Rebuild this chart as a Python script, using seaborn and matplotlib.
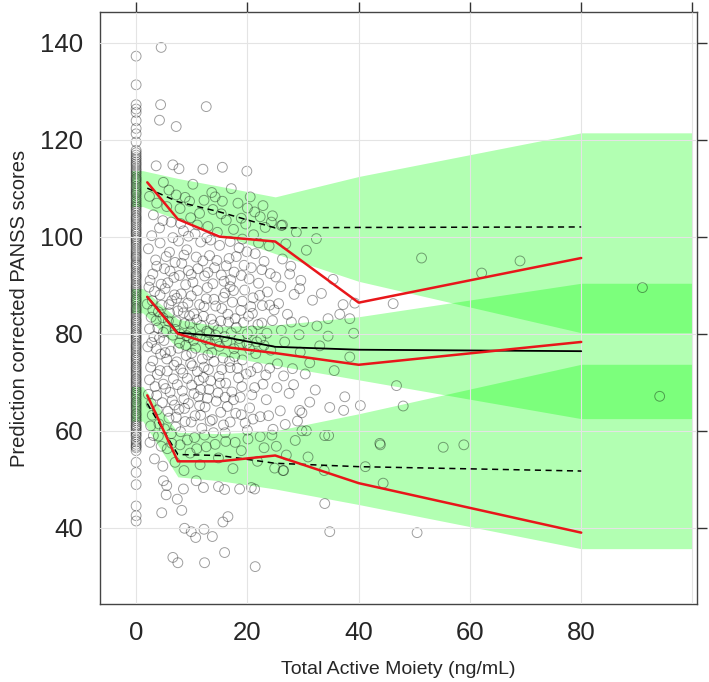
import numpy as np
import pandas as pd
import matplotlib
matplotlib.use("Agg")
import matplotlib.pyplot as plt
import seaborn as sns

# observed / simulated percentile lines (bin midpoints)
bin_x = [2, 7.5, 15, 25, 40, 80]
obs_p95 = [111.2, 103.6, 100.0, 99.0, 86.4, 95.6]
obs_p50 = [87.6, 80.0, 77.4, 76.0, 73.6, 78.3]
obs_p05 = [67.3, 53.7, 53.7, 54.9, 49.2, 39.0]
sim_p95 = [110.0, 107.2, 105.1, 101.8, 101.9, 102.0]
sim_p50 = [87.6, 80.2, 79.5, 77.3, 76.7, 76.4]
sim_p05 = [65.6, 55.1, 54.9, 53.3, 52.6, 51.7]

# confidence areas of the simulated percentiles
band_x = [-0.9, 1.2, 7.5, 15, 25, 40, 80, 100]
top_hi = [113.6, 113.6, 112.0, 110.4, 108.2, 112.4, 121.4, 121.4]
top_lo = [106.2, 106.2, 103.5, 100.5, 96.5, 90.8, 80.2, 80.2]
mid_hi = [89.3, 89.3, 83.0, 81.5, 81.8, 83.5, 90.4, 90.4]
mid_lo = [84.3, 84.3, 77.0, 75.5, 73.5, 70.5, 62.5, 62.5]
low_hi = [69.1, 69.1, 59.7, 59.4, 60.0, 63.5, 73.7, 73.7]
low_lo = [62.0, 62.0, 50.5, 49.7, 48.0, 44.8, 35.7, 35.7]

# observations with zero concentration
zero_y = [137.2, 131.3, 127.2, 126.3, 125.6, 123.9, 122.3, 121.2, 119.5, 117.8,
          116.8, 115.9, 115.0, 114.1, 113.3, 112.4, 111.7, 110.9, 110.0, 109.2,
          108.5, 107.6, 106.8, 106.1, 105.3, 104.4, 103.7, 102.9, 102.0, 101.2,
          100.5, 99.6, 98.9, 98.1, 97.2, 96.4, 95.7, 94.8, 94.1, 93.3,
          92.4, 91.7, 90.9, 90.0, 89.3, 88.5, 87.6, 86.9, 86.1, 85.2,
          84.5, 83.7, 82.8, 82.1, 81.3, 80.4, 79.7, 78.9, 78.0, 77.3,
          76.5, 75.6, 74.9, 74.1, 73.2, 72.5, 71.7, 70.8, 70.1, 69.3,
          68.4, 67.7, 66.9, 66.0, 65.3, 64.5, 63.6, 62.9, 62.1, 61.2,
          60.5, 59.6, 58.8, 58.1, 57.2, 56.5, 55.9, 53.5, 51.4, 48.9,
          44.5, 42.5, 41.4]
zero_y2 = [117.3, 116.3, 115.4, 114.6, 113.7, 112.9, 112.0, 111.3, 110.4, 109.6,
           108.9, 108.0, 107.2, 106.4, 105.7, 104.9, 104.0, 103.3, 102.5, 101.6,
           100.8, 100.0, 99.3, 98.5, 97.6, 96.8, 96.0, 95.3, 94.4, 93.7,
           92.8, 92.0, 91.3, 90.4, 89.6, 88.9, 88.1, 87.2, 86.5, 85.6,
           84.9, 84.1, 83.2, 82.5, 81.7, 80.9, 80.0, 79.3, 78.5, 77.6,
           76.9, 76.1, 75.2, 74.5, 73.7, 72.9, 72.1, 71.3, 70.5, 69.7,
           68.9, 68.1, 67.3, 66.5, 65.7, 64.9, 64.1, 63.3, 62.5, 61.7,
           60.9, 60.1, 59.2, 57.7, 56.8]

# observations with positive concentration (x, y)
obs_sparse = [(4.5, 139.0), (4.4, 127.2), (12.6, 126.8), (4.2, 124.0), (7.2, 122.7),
              (3.6, 114.6), (6.6, 114.8), (7.7, 114.0), (12.0, 113.9), (15.5, 114.3),
              (19.9, 113.5), (4.9, 111.2), (13.6, 109.1), (15.5, 107.3), (8.8, 108.1),
              (9.6, 107.3), (21.3, 105.1), (22.3, 104.1), (24.5, 104.3), (26.1, 102.3),
              (26.3, 102.4), (35.4, 91.2), (33.3, 88.3), (29.4, 89.3), (27.6, 92.3),
              (51.3, 95.6), (46.2, 86.2), (37.2, 86.0), (39.3, 86.3), (36.6, 84.0),
              (38.4, 83.1), (34.5, 83.1), (34.5, 79.5), (39.1, 80.1), (38.4, 75.2),
              (62.1, 92.5), (69.0, 95.0), (91.0, 89.5), (46.8, 69.3), (48.0, 65.1),
              (94.1, 67.1), (43.8, 57.4), (55.2, 56.6), (58.9, 57.1), (40.3, 65.2),
              (37.3, 64.2), (31.2, 65.9), (29.4, 64.2), (29.8, 63.7), (29.8, 60.0),
              (30.6, 60.0), (33.9, 59.0), (34.6, 59.0), (43.9, 57.1), (41.2, 52.6),
              (44.4, 49.2), (26.4, 51.8), (33.8, 51.8), (33.9, 45.0), (34.8, 39.2),
              (50.5, 39.0), (4.9, 49.7), (5.5, 48.7), (5.4, 46.8), (4.6, 43.1),
              (7.4, 45.9), (8.2, 43.6), (8.7, 39.9), (9.9, 39.2), (10.7, 38.0),
              (12.2, 39.7), (13.7, 38.2), (15.6, 41.2), (16.5, 42.3), (15.9, 34.9),
              (6.6, 33.9), (7.5, 32.8), (12.3, 32.8), (21.4, 32.0), (8.5, 48.0),
              (10.8, 49.7), (12.1, 48.3), (14.8, 48.5), (15.9, 47.9), (18.6, 48.0),
              (20.7, 48.3), (21.3, 48.0), (26.5, 51.8), (24.9, 52.3)]

obs_core = [(3.1, 104.5), (4.2, 101.8), (5.5, 106.2), (6.3, 103.0), (7.9, 105.8),
            (8.5, 101.2), (9.8, 103.9), (10.6, 100.6), (11.4, 104.8), (12.9, 102.1),
            (13.8, 105.6), (14.6, 100.9), (16.2, 103.4), (17.5, 101.5), (18.3, 106.9),
            (19.7, 102.6), (21.1, 100.4), (23.2, 101.9), (2.4, 108.3), (5.9, 109.6),
            (10.2, 110.8), (17.1, 109.9), (20.5, 108.2), (22.8, 106.4), (26.9, 98.5),
            (28.8, 100.9), (30.6, 97.2), (32.4, 99.6),
            (2.2, 97.5), (3.5, 95.2), (4.3, 98.7), (5.1, 93.4), (6.0, 96.8),
            (6.8, 91.6), (7.6, 99.1), (8.2, 94.5), (9.1, 97.3), (9.9, 92.2),
            (10.8, 95.8), (11.6, 98.9), (12.3, 91.9), (13.2, 96.1), (14.1, 93.6),
            (15.0, 98.2), (15.8, 90.8), (16.7, 95.5), (17.6, 92.7), (18.5, 97.7),
            (19.4, 94.1), (20.3, 91.3), (21.4, 96.5), (22.6, 93.2), (23.9, 98.1),
            (25.1, 91.7), (26.3, 95.4), (5.7, 90.5), (8.9, 90.1), (12.7, 99.8),
            (3.0, 92.3),
            (2.0, 86.1), (2.7, 83.4), (3.3, 88.7), (3.9, 81.2), (4.6, 85.9),
            (5.2, 89.3), (5.8, 82.6), (6.4, 86.8), (7.0, 80.9), (7.5, 84.7),
            (8.1, 88.2), (8.7, 82.1), (9.3, 86.3), (9.8, 80.4), (10.4, 84.1),
            (11.0, 88.9), (11.7, 81.7), (12.2, 85.6), (12.8, 89.5), (13.5, 83.0),
            (14.0, 87.1), (14.7, 80.8), (15.4, 85.2), (16.0, 88.4), (16.6, 82.4),
            (17.3, 86.5), (18.0, 81.3), (18.8, 84.8), (19.5, 89.0), (20.2, 83.6),
            (21.0, 87.4), (21.9, 81.9), (22.7, 85.8), (23.6, 88.6), (24.5, 82.7),
            (25.6, 86.2), (27.2, 84.0), (28.4, 88.1), (30.1, 82.5), (31.7, 86.9),
            (2.3, 89.6), (4.0, 84.5), (6.9, 88.0), (9.6, 83.7), (13.1, 80.2),
            (16.9, 89.7), (20.8, 80.6), (4.9, 80.3),
            (2.1, 77.3), (2.6, 73.1), (3.2, 79.4), (3.8, 71.6), (4.4, 75.8),
            (5.0, 78.6), (5.6, 72.3), (6.2, 76.4), (6.7, 70.7), (7.3, 74.2),
            (7.8, 78.1), (8.4, 71.9), (9.0, 75.5), (9.5, 79.2), (10.1, 73.4),
            (10.7, 77.0), (11.3, 70.4), (11.9, 74.8), (12.5, 78.8), (13.0, 72.6),
            (13.6, 76.1), (14.3, 79.7), (14.9, 71.2), (15.6, 75.0), (16.3, 78.4),
            (16.9, 73.0), (17.6, 76.9), (18.4, 70.9), (19.1, 74.6), (19.9, 78.0),
            (20.6, 72.2), (21.5, 75.9), (22.4, 79.0), (23.3, 71.5), (24.2, 76.6),
            (25.4, 73.8), (26.7, 78.3), (28.1, 72.8), (29.5, 76.2), (31.2, 74.0),
            (33.0, 77.5), (35.6, 72.4), (3.6, 76.9), (8.9, 77.6), (12.1, 71.0),
            (18.6, 77.8),
            (2.2, 67.5), (2.9, 63.2), (3.4, 69.1), (4.1, 61.4), (4.7, 65.8),
            (5.3, 68.7), (5.9, 62.6), (6.5, 66.3), (7.1, 60.8), (7.7, 64.4),
            (8.3, 68.2), (8.8, 61.9), (9.4, 65.6), (10.0, 69.4), (10.6, 63.1),
            (11.2, 67.0), (11.8, 60.5), (12.4, 64.9), (13.1, 68.5), (13.7, 62.3),
            (14.4, 66.1), (15.1, 69.8), (15.7, 61.2), (16.4, 65.0), (17.2, 68.0),
            (17.9, 63.6), (18.7, 66.9), (19.6, 61.6), (20.4, 64.7), (21.3, 68.9),
            (22.3, 62.9), (23.4, 66.4), (24.6, 60.3), (25.9, 64.1), (27.5, 67.7),
            (29.0, 62.0), (32.2, 68.4), (34.8, 64.8), (37.5, 67.0),
            (2.5, 57.6), (3.3, 54.2), (4.0, 58.9), (4.8, 52.7), (5.6, 56.3),
            (6.3, 59.4), (7.0, 53.5), (7.9, 57.1), (8.6, 51.8), (9.7, 55.4),
            (10.5, 58.6), (11.5, 53.0), (12.6, 56.7), (13.9, 59.6), (14.8, 54.4),
            (16.1, 57.8), (17.4, 52.2), (18.9, 55.9), (20.1, 58.3), (21.8, 53.7),
            (23.0, 56.5), (24.4, 59.1), (27.0, 55.0), (28.6, 58.0), (30.9, 54.6)]

obs_core2 = [(2.8, 100.2), (4.8, 103.3), (6.6, 99.8), (8.0, 102.7), (9.4, 100.1),
             (11.0, 102.4), (12.2, 107.5), (13.4, 99.3), (15.3, 104.7), (16.9, 99.0),
             (18.9, 103.8), (20.0, 105.9), (22.0, 98.7), (24.3, 103.0), (3.7, 106.9),
             (7.2, 108.6), (14.2, 108.2), (19.1, 99.5),
             (2.5, 91.0), (3.7, 93.9), (4.5, 90.2), (5.4, 95.9), (6.1, 92.9),
             (7.0, 94.7), (7.8, 92.0), (8.6, 96.2), (9.4, 93.0), (10.2, 90.6),
             (11.1, 93.4), (12.0, 95.0), (12.9, 92.6), (13.8, 90.3), (14.5, 95.1),
             (15.3, 92.1), (16.2, 94.0), (17.0, 91.1), (18.0, 95.9), (18.9, 92.0),
             (19.9, 96.9), (20.7, 93.6), (22.0, 90.4), (23.0, 94.9), (24.1, 92.4),
             (26.0, 89.7), (27.8, 93.9), (29.6, 91.0), (2.9, 86.8), (4.3, 88.0),
             (5.9, 86.0), (7.3, 87.3), (8.4, 85.5), (9.9, 87.8), (11.4, 86.0),
             (12.6, 87.2), (14.3, 85.7), (15.7, 87.5), (17.5, 88.9), (19.1, 86.7),
             (20.6, 85.6), (22.2, 87.9), (24.0, 85.9),
             (2.4, 81.0), (3.0, 84.9), (3.6, 82.7), (4.2, 79.1), (4.8, 83.3),
             (5.4, 80.7), (6.0, 84.3), (6.6, 79.7), (7.2, 82.5), (7.9, 80.0),
             (8.5, 84.3), (9.1, 79.6), (9.7, 82.0), (10.3, 78.6), (10.9, 82.9),
             (11.5, 79.5), (12.1, 83.6), (12.7, 80.5), (13.3, 77.9), (13.9, 81.8),
             (14.5, 78.5), (15.2, 82.6), (15.9, 79.4), (16.5, 84.0), (17.1, 80.2),
             (17.8, 83.1), (18.5, 79.0), (19.3, 82.3), (20.0, 80.0), (20.9, 84.2),
             (21.7, 78.3), (22.6, 82.2), (23.5, 80.1), (24.8, 84.9), (26.1, 80.7),
             (27.9, 82.4), (29.3, 79.8), (32.5, 81.6), (2.8, 78.2), (5.2, 76.1),
             (7.6, 77.0), (10.0, 76.0), (12.9, 75.6), (15.0, 77.4), (17.7, 75.3),
             (20.4, 76.8), (23.0, 77.6),
             (2.4, 70.5), (3.0, 74.4), (3.7, 67.3), (4.3, 72.4), (4.9, 69.6),
             (5.5, 74.8), (6.1, 67.9), (6.8, 73.5), (7.4, 69.5), (8.0, 72.7),
             (8.6, 66.6), (9.2, 70.8), (9.8, 73.9), (10.4, 67.7), (11.0, 72.2),
             (11.6, 68.5), (12.2, 73.1), (12.8, 66.7), (13.4, 70.3), (14.0, 74.3),
             (14.7, 67.8), (15.4, 72.6), (16.1, 69.8), (16.8, 74.3), (17.5, 66.4),
             (18.2, 72.9), (19.0, 69.1), (19.8, 71.7), (20.8, 67.4), (21.8, 73.0),
             (22.8, 69.6), (24.0, 72.9), (25.3, 68.9), (26.5, 71.3), (28.3, 69.5),
             (30.4, 71.7), (2.7, 65.6), (6.9, 65.3), (11.4, 65.2), (16.0, 66.9),
             (2.6, 61.0), (3.1, 59.0), (3.8, 64.3), (4.5, 56.8), (5.1, 60.4),
             (5.7, 64.0), (6.4, 57.4), (7.2, 62.8), (8.0, 59.8), (8.7, 64.6),
             (9.2, 58.1), (9.9, 61.8), (10.9, 56.3), (11.6, 63.2), (12.3, 59.1),
             (13.3, 62.0), (14.2, 57.2), (15.2, 63.8), (16.0, 59.6), (16.9, 61.8),
             (17.8, 57.6), (18.9, 63.3), (20.0, 60.1), (21.0, 62.4), (22.3, 58.8),
             (23.8, 63.1), (25.2, 56.8), (26.8, 61.3)]

pts = pd.DataFrame(
    [(0.0, y) for y in zero_y + zero_y2] + obs_sparse + obs_core + obs_core2,
    columns=["conc", "score"])

sns.set_style("white")
plt.rcParams["font.family"] = ["Liberation Sans", "DejaVu Sans"]

fig = plt.figure(figsize=(7.09, 6.82), dpi=100)
ax = fig.add_axes([0.141, 0.1144, 0.842, 0.868])

green = "#00ff00"
for lo, hi in [(top_lo, top_hi), (mid_lo, mid_hi), (low_lo, low_hi)]:
    ax.fill_between(band_x, lo, hi, color=green, alpha=0.3, lw=0, zorder=1)

ax.set_xticks([0, 20, 40, 60, 80, 100])
ax.set_xticklabels(["0", "20", "40", "60", "80", ""])
ax.set_yticks([40, 60, 80, 100, 120, 140])
ax.grid(True, color="#e4e4e4", lw=0.8, zorder=1.5)
ax.set_axisbelow(False)

sns.scatterplot(data=pts, x="conc", y="score", ax=ax, marker="o",
                facecolor="none", edgecolor=(0, 0, 0, 0.38), linewidth=0.7,
                s=50, zorder=2, legend=False)

lines = pd.DataFrame({"x": bin_x, "op95": obs_p95, "op50": obs_p50, "op05": obs_p05,
                      "sp95": sim_p95, "sp50": sim_p50, "sp05": sim_p05})
for col in ["sp95", "sp05"]:
    sns.lineplot(data=lines, x="x", y=col, ax=ax, color="black", lw=1.1,
                 linestyle=(0, (4, 3)), estimator=None, zorder=3)
sns.lineplot(data=lines, x="x", y="sp50", ax=ax, color="black", lw=1.3,
             estimator=None, zorder=3)
for col in ["op95", "op50", "op05"]:
    sns.lineplot(data=lines, x="x", y=col, ax=ax, color="#e8161a", lw=1.8,
                 estimator=None, zorder=4)

ax.set_xlim(-6.5, 100.8)
ax.set_ylim(24.3, 146.3)
ax.set_xlabel("Total Active Moiety (ng/mL)", fontsize=14, labelpad=12)
ax.set_ylabel("Prediction corrected PANSS scores", fontsize=14.5, labelpad=8)
ax.tick_params(direction="out", length=7, width=1, color="#333333",
               top=True, right=True, labeltop=False, labelright=False,
               labelsize=18.5, pad=5)
for sp in ax.spines.values():
    sp.set_color("#444444")
    sp.set_linewidth(1.0)

fig.savefig("out.png", dpi=100)
